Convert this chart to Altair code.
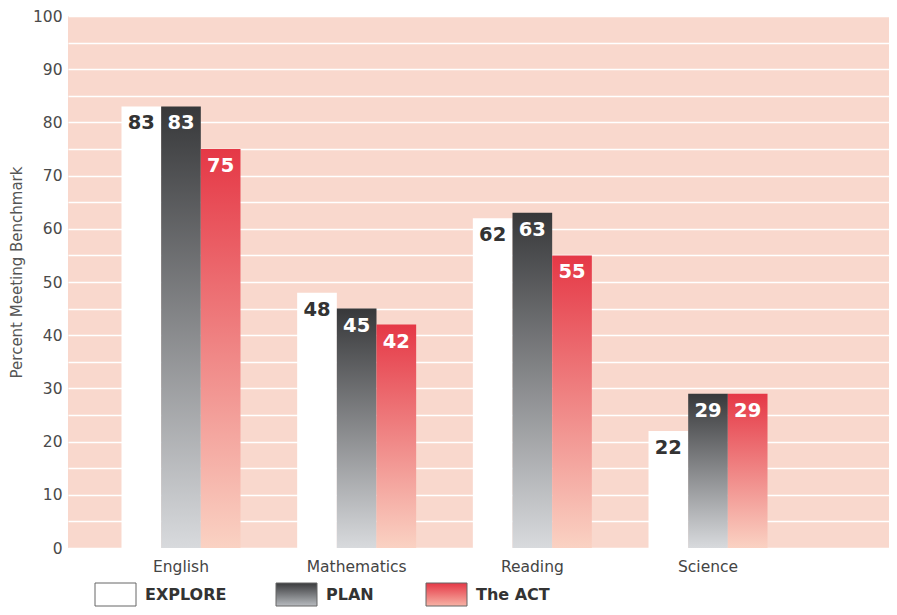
import altair as alt
import pandas as pd

subjects = ["English", "Mathematics", "Reading", "Science"]
series = ["EXPLORE", "PLAN", "The ACT"]
explore = [83, 48, 62, 22]
plan = [83, 45, 63, 29]
act = [75, 42, 55, 29]

rows = []
for i, s in enumerate(subjects):
    rows.append({"subject": s, "series": "EXPLORE", "value": explore[i]})
    rows.append({"subject": s, "series": "PLAN", "value": plan[i]})
    rows.append({"subject": s, "series": "The ACT", "value": act[i]})
df = pd.DataFrame(rows)
legend_df = pd.DataFrame({"series": series})

FONT = "DejaVu Sans"

def grad(c_top, c_bot):
    return alt.LinearGradient(
        gradient="linear", x1=0, x2=0, y1=0, y2=1,
        stops=[alt.GradientStop(color=c_top, offset=0),
               alt.GradientStop(color=c_bot, offset=1)])

fills = {
    "EXPLORE": "#ffffff",
    "PLAN": grad("#37383a", "#d8dadd"),
    "The ACT": grad("#e53846", "#fad2c3"),
}
legend_fills = {
    "EXPLORE": "#ffffff",
    "PLAN": grad("#3a3b3d", "#b8bbbf"),
    "The ACT": grad("#e53846", "#f7b3a6"),
}

x_enc = alt.X(
    "subject:N",
    sort=subjects,
    scale=alt.Scale(domain=subjects, paddingInner=0.3226, paddingOuter=0.498, align=0.3057),
    axis=alt.Axis(title=None, labelAngle=0, labelFontSize=15.5, labelColor="#444444",
                  labelFont=FONT, labelPadding=11, ticks=False, domain=False, grid=False),
)
xo_enc = alt.XOffset("series:N", sort=series,
                     scale=alt.Scale(domain=series, paddingInner=0, paddingOuter=0))
y_enc = alt.Y(
    "value:Q",
    scale=alt.Scale(domain=[0, 100], nice=False),
    axis=alt.Axis(title="Percent Meeting Benchmark", values=list(range(0, 101, 5)),
                  labelExpr="datum.value % 10 == 0 ? datum.label : ''",
                  labelFontSize=15.5, labelColor="#4a4a4a", labelFont=FONT, labelPadding=6,
                  ticks=False, domain=False, grid=True, gridColor="#ffffff", gridWidth=1.5,
                  titleFont=FONT, titleFontSize=15, titleFontWeight="normal",
                  titleColor="#555555", titleX=-44, titleY=256),
)

base = alt.Chart(df)
layers = []
for s in series:
    layers.append(
        base.transform_filter(alt.datum.series == s)
        .mark_bar(color=fills[s], stroke=None)
        .encode(x=x_enc, xOffset=xo_enc, y=y_enc)
    )

labels = base.mark_text(baseline="middle", align="center", dy=17, fontSize=19.5,
                        fontWeight="bold", font=FONT).encode(
    x=x_enc, xOffset=xo_enc, y=y_enc,
    text=alt.Text("value:Q"),
    color=alt.Color("series:N", scale=alt.Scale(domain=series, range=["#333333", "#ffffff", "#ffffff"]),
                    legend=None),
)
layers.append(labels)

leg_pos = {"EXPLORE": (27, 77), "PLAN": (208, 258), "The ACT": (358, 408)}
for s in series:
    bx, tx = leg_pos[s]
    lb = alt.Chart(legend_df).transform_filter(alt.datum.series == s)
    layers.append(
        lb.mark_rect(color=legend_fills[s], stroke="#666666", strokeWidth=1).encode(
            x=alt.value(bx), x2=alt.value(bx + 41), y=alt.value(567), y2=alt.value(590))
    )
    layers.append(
        lb.mark_text(align="left", baseline="middle", fontSize=16, fontWeight="bold",
                     font=FONT, color="#333333").encode(
            x=alt.value(tx), y=alt.value(579), text="series:N")
    )

chart = alt.layer(*layers).properties(
    width=821, height=532,
    autosize=alt.AutoSizeParams(type="none"),
    padding={"left": 60, "top": 8, "right": 0, "bottom": 59},
    background="#ffffff",
).configure_view(fill="#f9d8cd", stroke=None)

chart.save("out.html", embed_options={"renderer": "svg", "actions": False})
